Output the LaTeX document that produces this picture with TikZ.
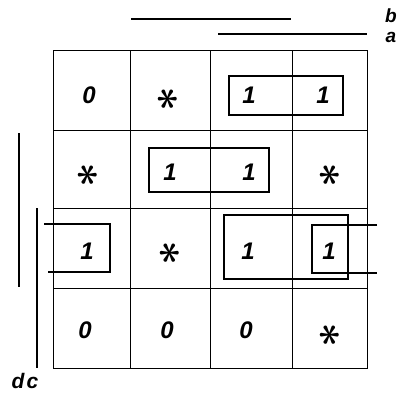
\documentclass[tikz,border=0pt]{standalone}
\usepackage{fontspec}
\setmainfont{Liberation Sans}
\begin{document}
\begin{tikzpicture}[x=1pt,y=-1pt,
  grid/.style={line width=0.9pt},
  loop/.style={line width=2.6pt},
  bar/.style={line width=2.5pt},
  val/.style={inner sep=0pt,font=\fontsize{24}{26}\selectfont\itshape\bfseries},
  dcs/.style={inner sep=0pt},
  lbl/.style={inner sep=0pt,font=\fontsize{19}{20}\selectfont\itshape\bfseries}]
\useasboundingbox (0,0) rectangle (406,394);
% grid
\draw[grid] (53,50) rectangle (367,368);
\foreach \x in {130,210,292} \draw[grid] (\x,50) -- (\x,368);
\foreach \y in {130,208,288} \draw[grid] (53,\y) -- (367,\y);
% cells
\newcommand{\dcsym}{\scalebox{4.3}{\rotatebox{90}{\boldmath$\ast$}}}
\node[val] (c11) at (89,95) {0};
\node[dcs] (c12) at (168,99) {\dcsym};
\node[val] (c13) at (249,95) {1};
\node[val] (c14) at (323,95) {1};
\node[dcs] (c21) at (88,175) {\dcsym};
\node[val] (c22) at (170,172) {1};
\node[val] (c23) at (249,172) {1};
\node[dcs] (c24) at (330,175) {\dcsym};
\node[val] (c31) at (87,251) {1};
\node[dcs] (c32) at (170,253) {\dcsym};
\node[val] (c33) at (248,251) {1};
\node[val] (c34) at (329,251) {1};
\node[val] (c41) at (85,330) {0};
\node[val] (c42) at (167,330) {0};
\node[val] (c43) at (246,330) {0};
\node[dcs] (c44) at (330,335) {\dcsym};
% loops
\draw[loop] (229,76) rectangle (343,115);
\draw[loop] (149,148) rectangle (269,192);
\draw[loop] (44,224) -- (110,224) -- (110,272) -- (48,272);
\draw[loop] (224,215) rectangle (348,279);
\coordinate (r1) at (377,225);
\coordinate (r2) at (377,273);
\draw[loop] (r1) -- (312,225) -- (312,273) -- (r2);
% variable bars
\coordinate (b1) at (131,19); \coordinate (b2) at (291,19);
\coordinate (a1) at (218,34); \coordinate (a2) at (367,34);
\draw[bar] (b1) -- (b2);
\draw[bar] (a1) -- (a2);
\node[lbl,anchor=base] (lb) at (391,22) {b};
\node[lbl,anchor=base] (la) at (391,42) {a};
\coordinate (d1) at (19,133); \coordinate (d2) at (19,287);
\coordinate (c1) at (37,208); \coordinate (c2) at (37,368);
\draw[bar] (d1) -- (d2);
\draw[bar] (c1) -- (c2);
\node[lbl,anchor=base,font=\fontsize{21}{22}\selectfont\itshape\bfseries] (ldc) at (25,388) {d\kern2pt c};
\end{tikzpicture}
\end{document}
